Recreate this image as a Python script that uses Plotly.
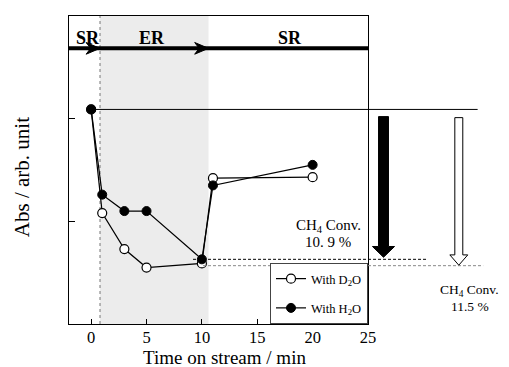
import plotly.graph_objects as go

# ---- data ----
time_d2o = [0, 1, 3, 5, 10, 11, 20]
abs_d2o = [2.09, 1.08, 0.73, 0.55, 0.59, 1.42, 1.43]
time_h2o = [0, 1, 3, 5, 10, 11, 20]
abs_h2o = [2.09, 1.26, 1.10, 1.10, 0.63, 1.35, 1.55]
x_ticks = [0, 5, 10, 15, 20, 25]
region_labels = ["SR", "ER", "SR"]
conv_h2o_lines = ["CH<sub>4</sub> Conv.", "10. 9 %"]
conv_d2o_lines = ["CH<sub>4</sub> Conv.", "11.5 %"]

XMIN, XMAX = -2, 25
YMIN, YMAX = 0, 3
ER_START, ER_END = 0.8, 10.6
START_LEVEL = abs_h2o[0]
LEVEL_H2O = abs_h2o[4]
LEVEL_D2O = 0.568

FONT = "Liberation Serif"


def px(x):
    return (x - XMIN) / (XMAX - XMIN)


def py(y):
    return (y - YMIN) / (YMAX - YMIN)


fig = go.Figure()
fig.add_trace(go.Scatter(
    x=time_d2o, y=abs_d2o, mode="lines+markers", name="With D<sub>2</sub>O",
    line=dict(color="black", width=1.2),
    marker=dict(symbol="circle", size=9, color="white", line=dict(color="black", width=1.2)),
    legendgroup="a",
))
fig.add_trace(go.Scatter(
    x=time_h2o, y=abs_h2o, mode="lines+markers", name="With H<sub>2</sub>O",
    line=dict(color="black", width=1.2),
    marker=dict(symbol="circle", size=9, color="black", line=dict(color="black", width=1)),
    legendgroup="b",
))

shapes = []
# shaded ER region
shapes.append(dict(type="rect", xref="x", yref="paper", x0=ER_START, x1=ER_END, y0=0, y1=1,
                   fillcolor="#ececec", line=dict(width=0), layer="below"))
shapes.append(dict(type="line", xref="x", yref="paper", x0=ER_START, x1=ER_START, y0=0, y1=1,
                   line=dict(color="#777", width=1, dash="dot"), layer="below"))
# top arrow line
ytop = 0.895
shapes.append(dict(type="line", xref="paper", yref="paper", x0=0, x1=1, y0=ytop, y1=ytop,
                   line=dict(color="black", width=4)))
for tip in [ER_START, ER_END]:
    t = px(tip)
    L = 1.25 / (XMAX - XMIN)
    N = 0.85 / (XMAX - XMIN)
    h = 0.019
    shapes.append(dict(type="path", xref="paper", yref="paper",
                       path=f"M {t} {ytop} L {t-L} {ytop+h} L {t-N} {ytop} L {t-L} {ytop-h} Z",
                       fillcolor="black", line=dict(color="black", width=1)))

# horizontal reference line from start
shapes.append(dict(type="line", xref="paper", yref="paper", x0=px(0), x1=px(34.9),
                   y0=py(START_LEVEL), y1=py(START_LEVEL), line=dict(color="black", width=1)))
# dashed levels
shapes.append(dict(type="line", xref="paper", yref="paper", x0=px(9.2), x1=px(30.4),
                   y0=py(LEVEL_H2O), y1=py(LEVEL_H2O), line=dict(color="black", width=1, dash="3px,2px")))
shapes.append(dict(type="line", xref="paper", yref="paper", x0=px(10.1), x1=px(35.4),
                   y0=py(LEVEL_D2O), y1=py(LEVEL_D2O), line=dict(color="#888", width=1, dash="3px,2px")))


def down_arrow(xc, ytop_d, ytip_d, shaft_half, head_half, head_len, fill):
    xs0, xs1 = px(xc - shaft_half), px(xc + shaft_half)
    xh0, xh1 = px(xc - head_half), px(xc + head_half)
    yt, yh, yp = py(ytop_d), py(ytip_d + head_len), py(ytip_d)
    path = (f"M {xs0} {yt} L {xs1} {yt} L {xs1} {yh} L {xh1} {yh} L {px(xc)} {yp} "
            f"L {xh0} {yh} L {xs0} {yh} Z")
    return dict(type="path", xref="paper", yref="paper", path=path, fillcolor=fill,
                line=dict(color="black", width=1))


shapes.append(down_arrow(26.4, 2.02, LEVEL_H2O + 0.02, 0.45, 1.0, 0.105, "black"))
shapes.append(down_arrow(33.2, 2.01, LEVEL_D2O + 0.005, 0.36, 0.81, 0.1, "white"))


def note(x, y, text, size, angle=0):
    return dict(x=x, y=y, xref="paper", yref="paper", text=text, showarrow=False,
                xanchor="center", yanchor="middle", textangle=angle, align="center",
                font=dict(family=FONT, size=size, color="black"))


annotations = []
for lab, xc in zip(region_labels, [-0.32, 5.5, 17.98]):
    annotations.append(note(px(xc), 0.930, f"<b>{lab}</b>", 18))
# CH4 conversion labels (one line each)
annotations.append(note(px(21.4), py(0.955), conv_h2o_lines[0], 15))
annotations.append(note(px(21.4), py(0.795), conv_h2o_lines[1], 15))
annotations.append(note(px(34.2), py(0.33), conv_d2o_lines[0], 13.5))
annotations.append(note(px(34.2), py(0.17), conv_d2o_lines[1], 13.5))
# axis titles
annotations.append(note(0.52, -0.108, "Time on stream / min", 19))
annotations.append(note(-0.157, 0.477, "Abs / arb. unit", 21, angle=-90))

fig.update_layout(
    width=509, height=367,
    margin=dict(l=61, r=149, t=8, b=51),
    paper_bgcolor="white", plot_bgcolor="white",
    font=dict(family=FONT, color="black"),
    shapes=shapes, annotations=annotations,
    showlegend=True,
    legend=dict(x=1, y=0, xanchor="right", yanchor="bottom", bordercolor="#444", borderwidth=1,
                bgcolor="white", font=dict(family=FONT, size=12.5), tracegroupgap=10),
    xaxis=dict(range=[XMIN, XMAX], tickvals=x_ticks, ticks="inside", ticklen=5, tickcolor="black",
               showline=True, linecolor="black", linewidth=1, mirror=True, showgrid=False, zeroline=False,
               tickfont=dict(family=FONT, size=16.5), ticklabelstandoff=-2),
    yaxis=dict(range=[YMIN, YMAX], tickvals=[1, 2], showticklabels=False, ticks="inside", ticklen=6,
               tickcolor="black", showline=True, linecolor="black", linewidth=1, mirror=True,
               showgrid=False, zeroline=False),
)

fig.write_html("out.html")
